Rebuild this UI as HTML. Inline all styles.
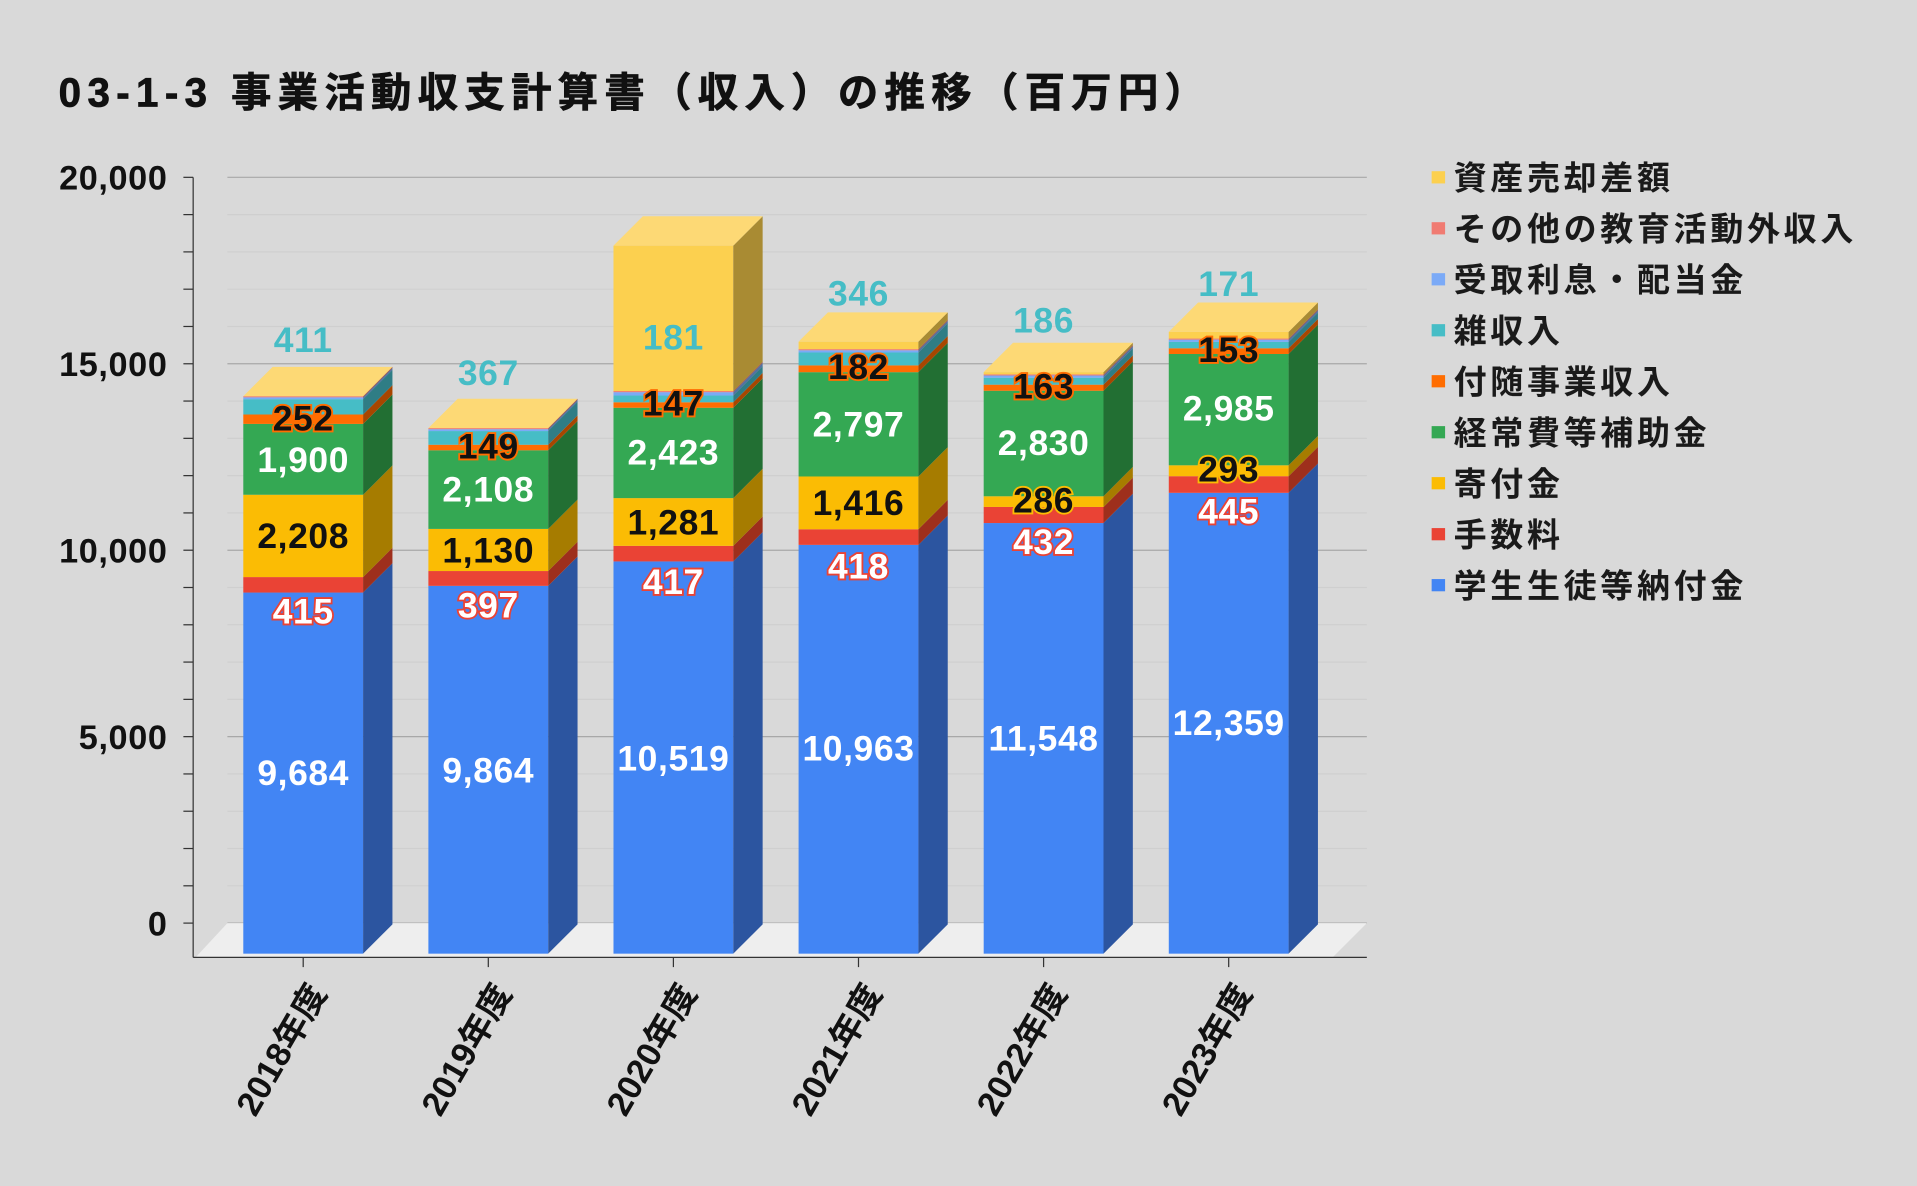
<!DOCTYPE html>
<html><head><meta charset="utf-8"><style>
html,body{margin:0;padding:0;background:#d9d9d9;}
svg{display:block;font-family:"Liberation Sans","Noto Sans CJK JP",sans-serif;font-weight:bold;}
</style></head><body>
<div id="w"></div>
<script>
var f=function(v){return String(v).replace(/\B(?=(\d{3})+(?!\d))/g,',');};
var h='<svg width="1917" height="1186" viewBox="0 0 1568 970" xmlns="http://www.w3.org/2000/svg">';
h+='<rect width="1568" height="970" fill="#d9d9d9"/>';
h+='<text x="48" y="87" font-size="33" letter-spacing="5.2" fill="#111" stroke="#111" stroke-width="0.6">03-1-3 事業活動収支計算書（収入）の推移（百万円）</text>';
var k=0.0305, base=780, D=24;
for(var v=0;v<=20000;v+=1000){var y=755-v*k;var maj=(v%5000==0);
 h+='<line x1="186" x2="1118" y1="'+y+'" y2="'+y+'" stroke="'+(maj?'#a8a8a8':'#cfcfcf')+'" stroke-width="1"/>';
 h+='<line x1="150" x2="158" y1="'+y+'" y2="'+y+'" stroke="#333"/>';
 if(maj)h+='<text x="137" y="'+(y+10)+'" font-size="28" letter-spacing="0.5" text-anchor="end" fill="#111">'+f(v)+'</text>';}
h+='<polygon points="160,783 1090,783 1118,755 186,755" fill="#eeeeee"/>';
h+='<line x1="158" x2="158" y1="145" y2="783" stroke="#333"/><line x1="158" x2="1118" y1="783" y2="783" stroke="#333"/>';
var cols=[['#4285f4','#2c55a0'],['#ea4335','#9e2f1c'],['#fbbc04','#a67c00'],['#34a853','#226f33'],['#ff6d01','#a84600'],['#46bdc6','#2f7d85'],['#7baaf7','#51719f'],['#f07b72','#a0524c'],['#fcd04f','#a98b33']];
var topc='#fdd975';
var data=[[9684,415,2208,1900,252,411,50,30,0],[9864,397,1130,2108,149,367,50,30,0],[10519,417,1281,2423,147,181,90,30,3900],[10963,418,1416,2797,182,346,60,30,200],[11548,432,286,2830,163,186,60,30,60],[12359,445,293,2985,153,171,60,30,180]];
var ly=[[632,500,438,376,342,278],[630,495,450,400,365,305],[620,476,427,370,330,276],[612,463,411,347,300,240],[604,443,409,362,316,262],[591,418,384,334,286,232]];
var years=['2018年度','2019年度','2020年度','2021年度','2022年度','2023年度'];
for(var i=0;i<6;i++){var d=data[i];var x=199+i*151.4,w=98;var c=0;
 for(var j=0;j<9;j++){var val=d[j];if(!val)continue;var y0=base-c*k,y1=base-(c+val)*k;c+=val;
  h+='<rect x="'+x+'" y="'+y1+'" width="'+w+'" height="'+(y0-y1)+'" fill="'+cols[j][0]+'"/>';
  h+='<polygon points="'+(x+w)+','+y0+' '+(x+w+D)+','+(y0-D)+' '+(x+w+D)+','+(y1-D)+' '+(x+w)+','+y1+'" fill="'+cols[j][1]+'"/>';}
 var yt=base-c*k;
 h+='<polygon points="'+x+','+yt+' '+(x+D)+','+(yt-D)+' '+(x+w+D)+','+(yt-D)+' '+(x+w)+','+yt+'" fill="'+topc+'"/>';
 var cx=x+49;
 var t=function(yy,txt,fill,st){return '<text x="'+cx+'" y="'+(yy+10)+'" font-size="29" letter-spacing="0.5" text-anchor="middle" fill="'+fill+'"'+(st?' stroke="'+st+'" stroke-width="3" paint-order="stroke"':'')+'>'+txt+'</text>';};
 h+=t(ly[i][0],f(d[0]),'#fff');h+=t(ly[i][1],f(d[1]),'#fff','#ea4335');
 h+=t(ly[i][2],f(d[2]),'#111','#fbbc04');h+=t(ly[i][3],f(d[3]),'#fff');
 h+=t(ly[i][4],f(d[4]),'#111','#ff6d01');h+=t(ly[i][5],f(d[5]),'#46bdc6');
 h+='<line x1="'+cx+'" x2="'+cx+'" y1="783" y2="791" stroke="#333"/>';
 h+='<text transform="translate('+(cx+20)+',812) rotate(-60)" font-size="28" text-anchor="end" fill="#111">'+years[i]+'</text>';
}
var leg=['資産売却差額','その他の教育活動外収入','受取利息・配当金','雑収入','付随事業収入','経常費等補助金','寄付金','手数料','学生生徒等納付金'];
for(var n=0;n<9;n++){var yy=145+n*41.7;
 h+='<rect x="1171" y="'+(yy-5)+'" width="11" height="10" fill="'+cols[8-n][0]+'"/>';
 h+='<text x="1189" y="'+(yy+10)+'" font-size="27" letter-spacing="3" fill="#1a1a1a">'+leg[n]+'</text>';}
h+='</svg>';
document.getElementById('w').innerHTML=h;
</script>
</body></html>
